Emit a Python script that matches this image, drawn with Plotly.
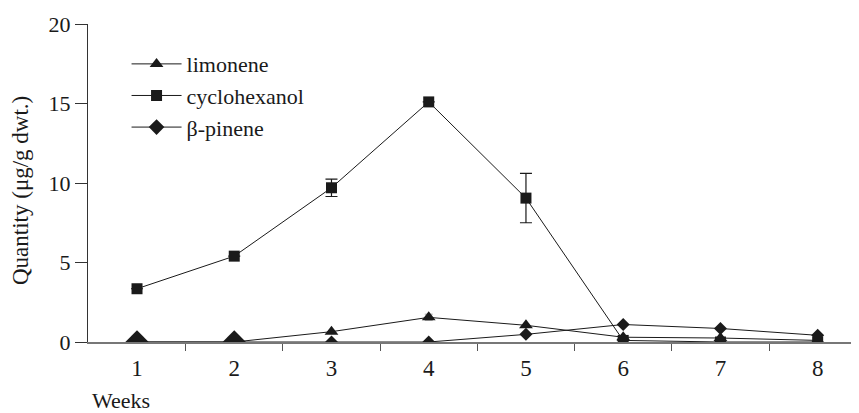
import plotly.graph_objects as go

weeks = [1, 2, 3, 4, 5, 6, 7, 8]
limonene = [0.0, 0.0, 0.65, 1.55, 1.05, 0.3, 0.25, 0.1]
limonene_err = [0, 0, 0, 0.2, 0, 0, 0, 0]
cyclohexanol = [3.35, 5.4, 9.7, 15.1, 9.05, 0.1, 0.0, 0.0]
cyclohexanol_err = [0, 0, 0.55, 0, 1.55, 0, 0, 0]
pinene = [0.0, 0.0, 0.0, 0.0, 0.48, 1.1, 0.85, 0.42]
y_ticks = [0, 5, 10, 15, 20]

font = "Liberation Serif, Times New Roman, serif"
ink = "#1a1a1a"

# page offset of 8px (default body margin) is compensated in the margins
L, T, W, H = 80, 16, 851, 405
PW, PH = W - L, 318

fig = go.Figure()
fig.add_trace(go.Scatter(
    x=weeks, y=limonene, name="limonene", mode="lines+markers",
    line=dict(color=ink, width=1),
    marker=dict(symbol="triangle-up", size=12, color=ink, line=dict(width=0)),
    error_y=dict(type="data", array=limonene_err, visible=True, color="#aaa", thickness=1, width=4),
))
fig.add_trace(go.Scatter(
    x=weeks, y=cyclohexanol, name="cyclohexanol", mode="lines+markers",
    line=dict(color=ink, width=1),
    marker=dict(symbol="square", size=11, color=ink, line=dict(width=0)),
    error_y=dict(type="data", array=cyclohexanol_err, visible=True, color=ink, thickness=1.2, width=6),
))
fig.add_trace(go.Scatter(
    x=weeks, y=pinene, name="β-pinene", mode="lines+markers",
    line=dict(color=ink, width=1),
    marker=dict(symbol="diamond", size=[18, 18, 10, 10, 10, 10, 10, 10],
                color=ink, opacity=1, line=dict(width=0)),
))

fig.add_annotation(text="Weeks", xref="paper", yref="paper",
                   x=(90 - 88) / PW, y=(342 - 386) / PH,
                   xanchor="left", yanchor="top", showarrow=False,
                   font=dict(family=font, size=22, color=ink))
fig.add_annotation(text="Quantity (μg/g dwt.)", xref="paper", yref="paper",
                   x=(20 - 88) / PW, y=(342 - 191) / PH, textangle=-90,
                   xanchor="center", yanchor="middle", showarrow=False,
                   font=dict(family=font, size=23, color=ink))

fig.update_layout(
    width=W, height=H,
    margin=dict(l=L, r=0, t=T, b=H - T - PH),
    paper_bgcolor="white", plot_bgcolor="white",
    font=dict(family=font, size=21, color=ink),
    showlegend=True,
    legend=dict(x=0.05, y=0.94, xanchor="left", yanchor="top",
                bgcolor="rgba(0,0,0,0)", font=dict(family=font, size=22, color=ink),
                tracegroupgap=0, itemwidth=50),
    xaxis=dict(
        range=[0.496, 8.425], tickmode="array", tickvals=weeks,
        ticktext=[str(w) for w in weeks],
        ticks="outside", ticklen=5, tickcolor="rgba(0,0,0,0)",
        showline=True, linecolor="#777", linewidth=1.5,
        showgrid=False, zeroline=False, automargin=False,
        tickfont=dict(family=font, size=23, color=ink),
        minor=dict(tickmode="array", tickvals=[w + 0.5 for w in weeks[:-1]],
                   ticks="outside", ticklen=7, tickcolor="#555", tickwidth=1, showgrid=False),
    ),
    yaxis=dict(
        range=[0, 20], tickmode="array", tickvals=y_ticks,
        ticks="outside", ticklen=12, tickcolor="#333", tickwidth=1,
        showline=True, linecolor="#333", linewidth=1,
        showgrid=False, zeroline=False, automargin=False,
        tickfont=dict(family=font, size=22, color=ink),
    ),
)

fig.write_html("out.html")
